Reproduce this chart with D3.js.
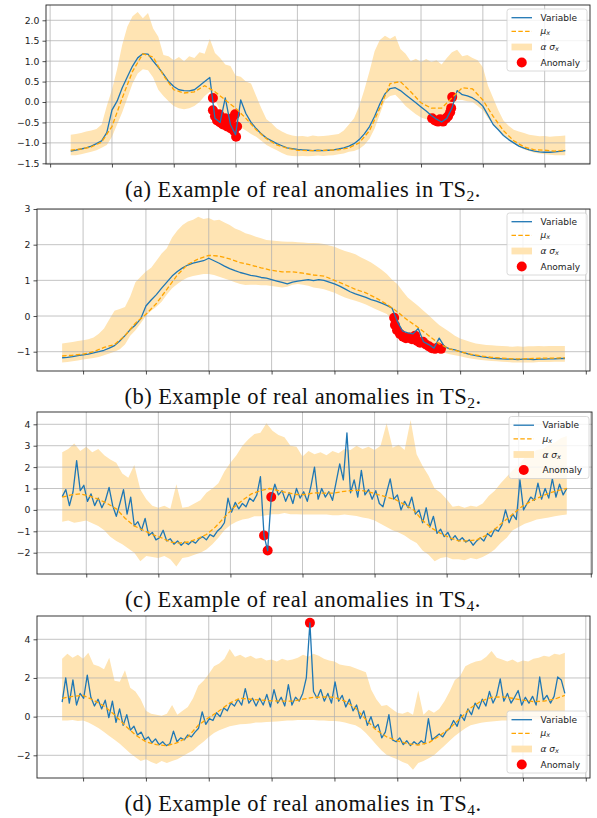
<!DOCTYPE html>
<html><head><meta charset="utf-8">
<script src="https://cdn.jsdelivr.net/npm/d3@7"></script>
<style>body{margin:0;background:#fff}svg{display:block}</style>
</head><body><svg id="chart" width="597" height="818"></svg>
<script>
// ---------------- Panel (a) TS2 ----------------
const varA = [-1.20,-1.18,-1.15,-1.12,-1.08,-1.02,-0.95,-0.75,-0.20,0.02,
0.35,0.62,0.88,1.08,1.18,1.17,1.00,0.85,0.68,0.50,
0.38,0.30,0.28,0.27,0.30,0.40,0.50,0.60,-0.40,-0.50,
0.10,-0.55,-0.80,0.05,-0.28,-0.50,-0.65,-0.78,-0.88,-0.95,
-1.02,-1.07,-1.12,-1.14,-1.16,-1.17,-1.18,-1.19,-1.18,-1.19,
-1.18,-1.17,-1.15,-1.12,-1.08,-1.02,-0.92,-0.78,-0.60,-0.35,
-0.05,0.20,0.33,0.35,0.28,0.18,0.08,-0.02,-0.12,-0.22,
-0.33,-0.42,-0.49,-0.40,-0.15,0.28,0.18,0.15,0.10,0.02,
-0.10,-0.32,-0.55,-0.68,-0.82,-0.92,-1.00,-1.08,-1.13,-1.17,
-1.20,-1.22,-1.23,-1.23,-1.22,-1.21,-1.19];
const muA = [-1.18,-1.15,-1.10,-0.98,-0.60,0.10,0.75,1.18,1.10,0.65,
0.30,0.22,0.25,0.40,0.25,0.05,-0.15,-0.40,-0.68,-0.90,
-1.05,-1.13,-1.18,-1.19,-1.19,-1.18,-1.17,-1.12,-1.00,-0.70,
-0.15,0.45,0.50,0.25,-0.02,-0.15,-0.15,0.10,0.35,0.32,
0.05,-0.35,-0.70,-0.95,-1.10,-1.17,-1.18,-1.20,-1.18];
const upA = [-0.80,-0.78,-0.76,-0.72,-0.70,-0.66,-0.55,-0.10,0.30,0.80,
1.40,1.85,2.10,2.20,2.05,2.18,1.80,1.60,1.15,1.12,
1.02,1.10,1.00,1.12,1.08,1.22,1.18,1.55,1.20,1.08,
0.92,0.88,0.65,0.62,0.50,0.45,0.15,-0.15,-0.42,-0.52,
-0.65,-0.72,-0.78,-0.82,-0.84,-0.83,-0.85,-0.82,-0.84,-0.83,
-0.82,-0.80,-0.78,-0.70,-0.55,-0.40,-0.10,0.30,0.75,1.25,
1.52,1.62,1.55,1.62,1.30,1.18,1.00,1.06,0.98,1.05,
0.98,1.02,0.92,1.08,1.22,1.28,1.12,1.15,1.08,1.02,
0.85,0.40,0.10,-0.20,-0.45,-0.58,-0.68,-0.72,-0.76,-0.80,
-0.82,-0.84,-0.83,-0.85,-0.84,-0.83,-0.82];
const loA = [-1.30,-1.30,-1.28,-1.25,-1.22,-1.18,-1.12,-1.05,-0.85,-0.55,
-0.25,0.10,0.45,0.70,0.80,0.78,0.60,0.30,0.15,0.02,
-0.10,-0.15,-0.18,-0.15,-0.10,0.00,0.15,0.25,0.05,-0.20,
-0.35,-0.50,-0.55,-0.62,-0.70,-0.78,-0.85,-0.95,-1.05,-1.12,
-1.18,-1.25,-1.30,-1.32,-1.33,-1.32,-1.33,-1.32,-1.31,-1.32,
-1.31,-1.30,-1.28,-1.26,-1.22,-1.20,-1.15,-1.05,-0.90,-0.65,
-0.30,0.05,0.15,0.18,0.05,-0.10,-0.20,-0.30,-0.38,-0.42,
-0.45,-0.45,-0.38,-0.28,-0.10,0.05,0.05,0.02,0.00,-0.10,
-0.20,-0.40,-0.55,-0.68,-0.82,-0.92,-1.02,-1.10,-1.16,-1.20,
-1.24,-1.26,-1.28,-1.29,-1.30,-1.30,-1.30];
const anomAx = [55.2,55.2,56.0,56.8,57.6,58.0,59.1,59.9,60.7,61.5,62.2,62.6,63.4,63.8,64.2,64.6,
140.3,141.4,142.6,143.4,144.5,145.7,146.5,147.3,147.7,148.1];
const anomAy = [0.10,-0.20,-0.35,-0.45,-0.30,-0.50,-0.55,-0.40,-0.60,-0.55,-0.65,-0.40,-0.70,-0.30,-0.85,-0.60,
-0.40,-0.45,-0.48,-0.42,-0.48,-0.40,-0.35,-0.25,-0.15,0.12];

// ---------------- Panel (b) TS2 ----------------
const varB = [-1.17,-1.16,-1.14,-1.11,-1.09,-1.07,-1.03,-1.00,-0.96,-0.90,
-0.83,-0.70,-0.55,-0.38,-0.25,-0.08,0.28,0.45,0.60,0.78,
0.95,1.12,1.25,1.35,1.43,1.48,1.52,1.55,1.62,1.55,
1.48,1.40,1.33,1.27,1.22,1.18,1.14,1.12,1.08,1.06,
1.02,0.98,0.94,0.90,0.95,0.98,1.00,1.02,0.99,1.02,
1.00,0.95,0.90,0.84,0.76,0.68,0.62,0.57,0.52,0.46,
0.42,0.36,0.30,0.22,-0.15,-0.42,-0.47,-0.50,-0.35,-0.72,
-0.80,-0.90,-0.62,-0.86,-0.92,-0.95,-1.00,-1.04,-1.08,-1.11,
-1.14,-1.16,-1.18,-1.19,-1.20,-1.21,-1.21,-1.22,-1.21,-1.21,
-1.22,-1.21,-1.21,-1.20,-1.20,-1.19,-1.19];
const muB = [-1.12,-1.10,-1.07,-1.00,-0.88,-0.80,-0.55,-0.20,0.05,0.35,
0.75,1.15,1.45,1.60,1.70,1.68,1.60,1.50,1.43,1.35,
1.28,1.24,1.24,1.20,1.15,1.12,1.00,0.88,0.75,0.65,
0.50,0.33,0.12,-0.12,-0.32,-0.55,-0.78,-0.92,-1.00,-1.07,
-1.12,-1.16,-1.18,-1.20,-1.20,-1.19,-1.18,-1.18,-1.17];
const upB = [-0.77,-0.75,-0.73,-0.70,-0.68,-0.65,-0.60,-0.50,-0.35,-0.10,
0.15,0.20,0.25,0.55,0.95,1.10,1.25,1.35,1.55,1.75,
1.90,2.20,2.40,2.55,2.65,2.70,2.78,2.72,2.75,2.68,
2.70,2.62,2.55,2.45,2.40,2.32,2.28,2.22,2.18,2.13,
2.12,2.10,2.09,2.08,2.08,2.07,2.06,2.05,2.05,2.04,
2.02,1.98,1.94,1.88,1.82,1.78,1.73,1.65,1.58,1.50,
1.40,1.30,1.18,1.02,0.90,0.70,0.52,0.40,0.28,0.15,
0.02,-0.12,-0.25,-0.35,-0.45,-0.55,-0.63,-0.68,-0.73,-0.77,
-0.79,-0.81,-0.82,-0.83,-0.84,-0.85,-0.86,-0.85,-0.86,-0.85,
-0.85,-0.84,-0.85,-0.84,-0.84,-0.84,-0.84];
const loB = [-1.30,-1.29,-1.27,-1.25,-1.22,-1.20,-1.18,-1.15,-1.10,-1.05,
-1.00,-0.93,-0.80,-0.55,-0.40,-0.20,0.00,0.15,0.26,0.40,
0.60,0.78,0.90,1.00,1.08,1.12,1.15,1.18,1.18,1.15,
1.10,1.05,1.00,0.95,0.90,0.87,0.88,0.88,0.86,0.86,
0.84,0.82,0.80,0.82,0.88,0.90,0.88,0.85,0.80,0.78,
0.75,0.70,0.65,0.58,0.52,0.47,0.43,0.38,0.32,0.25,
0.18,0.12,0.06,-0.10,-0.25,-0.40,-0.52,-0.62,-0.72,-0.78,
-0.85,-0.92,-0.98,-1.03,-1.07,-1.10,-1.13,-1.16,-1.19,-1.21,
-1.23,-1.25,-1.26,-1.27,-1.28,-1.29,-1.30,-1.30,-1.30,-1.30,
-1.30,-1.29,-1.29,-1.29,-1.28,-1.28,-1.28];
const anomBx = [126.8,127.1,127.9,129.0,130.2,131.3,132.5,133.6,134.8,135.6,136.7,137.8,138.9,140.1,141.2,142.4,143.5,144.7];
const anomBy = [-0.05,-0.25,-0.40,-0.50,-0.58,-0.62,-0.60,-0.65,-0.55,-0.70,-0.75,-0.72,-0.80,-0.85,-0.90,-0.92,-0.88,-0.92];

// ---------------- Panel (c) TS4 ----------------
const varC = [0.62,0.95,0.20,0.85,2.30,0.90,1.15,0.40,0.75,0.20,
0.55,0.10,0.45,1.05,0.20,-0.30,0.30,0.95,-0.20,0.60,
-0.75,-0.55,-0.95,-0.40,-1.20,-1.05,-1.40,-1.30,-0.95,-1.45,
-1.35,-1.60,-1.45,-1.65,-1.50,-1.62,-1.45,-1.55,-1.35,-1.25,
-1.40,-1.15,-1.25,-1.00,-0.85,-0.60,0.55,-0.10,0.35,0.05,
0.30,0.15,0.55,0.40,0.70,1.55,-1.20,-1.90,0.60,1.20,
0.70,0.90,0.40,0.80,0.30,1.00,0.55,0.85,0.40,1.10,
2.00,0.50,1.00,0.60,0.85,0.45,1.30,2.15,1.40,3.60,
0.80,1.40,0.60,1.85,0.70,0.95,0.50,0.90,0.30,0.15,
0.80,1.45,0.50,0.70,0.00,0.40,0.10,0.60,-0.20,0.00,
-0.60,0.10,-0.80,-0.30,-1.10,-0.90,-1.25,-1.05,-1.40,-1.20,
-1.45,-1.30,-1.50,-1.40,-1.65,-1.45,-1.30,-1.45,-1.10,-1.25,
-0.90,-1.00,-0.70,0.00,-0.60,-0.20,-0.45,1.40,0.00,0.30,
0.60,0.45,1.25,0.50,1.00,0.55,1.45,0.60,1.20,0.70,1.00];
const muC = [0.60,0.70,0.75,0.65,0.50,0.30,0.05,-0.40,-0.75,-0.95,
-1.15,-1.30,-1.50,-1.55,-1.50,-1.35,-1.15,-0.80,-0.35,0.10,
0.45,0.75,0.90,1.00,0.90,0.80,0.72,0.72,0.80,0.78,
0.78,0.85,0.90,0.92,0.85,0.72,0.60,0.48,0.25,0.00,
-0.50,-0.85,-1.10,-1.30,-1.45,-1.45,-1.40,-1.20,-0.90,-0.55,
-0.20,0.15,0.40,0.60,0.78,0.90,1.00];
const upC = [2.70,2.85,3.10,2.75,2.95,2.70,2.85,2.55,2.35,2.20,
1.70,1.50,2.10,0.95,0.50,0.20,0.10,0.20,0.05,1.20,
0.10,0.15,0.30,0.45,0.80,1.00,1.25,1.80,2.20,2.55,
3.00,3.30,3.55,3.60,4.05,3.70,3.50,3.40,3.00,2.95,
2.50,2.75,2.60,2.70,2.55,2.75,2.65,2.85,2.80,3.00,
2.85,2.95,2.80,3.00,4.05,2.90,3.05,2.80,4.20,2.60,
2.05,1.60,1.00,0.80,0.50,0.15,0.20,0.10,0.20,0.15,
0.30,0.65,0.90,1.25,1.55,1.85,2.10,2.45,2.60,2.80,
2.85,3.05,3.15,3.35,3.45];
const loC = [-0.55,-0.50,-0.60,-0.55,-0.50,-0.62,-0.75,-0.95,-1.25,-1.45,
-1.60,-1.80,-2.00,-2.40,-2.15,-2.20,-2.25,-2.15,-2.30,-2.65,
-2.25,-2.20,-2.10,-2.00,-1.85,-1.60,-1.30,-0.95,-0.70,-0.55,
-0.45,-0.40,-0.30,-0.30,-0.25,-0.20,-0.20,-0.15,-0.20,-0.20,
-0.22,-0.22,-0.22,-0.22,-0.22,-0.25,-0.25,-0.22,-0.25,-0.28,
-0.35,-0.40,-0.50,-0.65,-0.80,-0.95,-1.05,-1.20,-1.40,-1.55,
-1.90,-2.10,-2.40,-2.25,-2.20,-2.30,-2.30,-2.35,-2.25,-2.30,
-2.20,-2.05,-1.85,-1.55,-1.30,-0.95,-0.80,-0.65,-0.55,-0.45,
-0.40,-0.35,-0.30,-0.25,-0.22];
const anomCx = [67.2,68.4,69.6];
const anomCy = [-1.20,-1.90,0.60];

// ---------------- Panel (d) TS4 ----------------
const varD = [0.75,2.00,0.70,1.90,0.60,1.20,0.95,2.15,1.00,0.55,
0.90,0.40,0.85,-0.05,0.80,-0.30,0.40,-0.45,0.10,-0.70,
-0.50,-0.95,-0.80,-1.20,-1.05,-1.35,-1.15,-1.45,-1.30,-1.50,
-1.40,-0.75,-1.30,-1.10,-1.20,-0.95,-1.05,-0.80,-0.60,0.25,
-0.40,-0.10,-0.20,0.20,0.00,0.45,0.30,0.70,0.55,0.90,
0.60,1.45,0.70,0.95,0.55,0.95,0.60,1.15,0.50,1.40,
0.70,1.00,0.55,1.65,0.60,1.00,0.80,1.20,2.00,4.85,
1.30,0.95,1.40,0.80,1.20,0.70,1.80,0.80,1.10,0.50,
0.90,0.30,0.60,-0.10,0.30,-0.45,0.00,-0.60,-0.40,-1.10,
-0.80,0.10,-1.20,-1.30,-1.10,-1.45,-1.25,-1.50,-1.30,-1.45,
-1.25,-1.40,-0.10,-1.20,-1.05,-0.90,-1.05,-0.75,-0.60,-0.20,
-0.50,0.10,-0.20,0.40,0.10,0.70,0.40,0.90,0.55,1.30,
0.70,1.10,1.95,0.80,1.20,0.70,1.00,1.35,0.60,1.00,
0.70,1.05,0.60,2.05,0.85,1.10,0.70,1.05,2.05,1.90,1.20];
const muD = [0.95,1.05,1.10,0.85,0.55,0.10,-0.45,-0.95,-1.30,-1.45,
-1.50,-1.35,-1.05,-0.45,-0.05,0.30,0.70,0.95,0.90,0.85,
0.82,0.80,0.80,0.90,1.00,1.02,1.00,0.80,0.45,-0.15,
-0.70,-1.05,-1.25,-1.40,-1.47,-1.35,-1.00,-0.60,-0.10,0.45,
0.80,1.00,1.02,0.95,0.85,0.78,0.80,0.90,1.10];
const upD = [3.00,3.25,3.05,3.20,3.00,3.30,2.70,2.60,2.45,3.05,
1.85,1.80,2.40,1.50,1.30,0.90,0.30,0.15,0.10,0.05,
0.15,0.60,0.10,0.30,0.50,0.95,1.60,1.85,2.20,2.60,
2.75,3.00,3.50,3.10,3.20,3.05,3.15,3.00,3.05,2.90,
2.95,2.85,3.00,2.90,2.95,3.05,3.20,3.10,3.25,3.15,
3.00,2.90,2.85,2.70,2.65,2.60,2.50,2.40,2.30,1.40,
0.90,0.55,0.60,0.40,0.20,0.15,0.25,0.10,1.35,0.10,
0.35,0.20,0.40,0.80,1.30,1.90,2.10,2.60,2.75,2.85,
2.90,3.10,3.40,3.05,2.95,2.85,2.95,2.80,2.90,2.85,
3.00,3.05,3.15,3.10,3.25,3.20,3.30];
const loD = [-0.20,-0.20,-0.18,-0.22,-0.20,-0.30,-0.45,-0.60,-0.80,-1.00,
-1.20,-1.40,-1.65,-1.90,-2.10,-2.30,-2.20,-2.35,-2.45,-2.30,
-2.40,-2.30,-2.20,-2.05,-1.90,-1.75,-1.50,-1.30,-1.05,-0.85,
-0.70,-0.60,-0.50,-0.45,-0.40,-0.38,-0.35,-0.30,-0.30,-0.28,
-0.26,-0.25,-0.22,-0.20,-0.20,-0.18,-0.18,-0.17,-0.18,-0.20,
-0.20,-0.22,-0.22,-0.25,-0.30,-0.38,-0.45,-0.60,-0.85,-1.15,
-1.45,-1.75,-1.98,-2.10,-2.20,-2.35,-2.45,-2.75,-2.40,-2.30,
-2.15,-2.00,-1.75,-1.50,-1.25,-1.00,-0.80,-0.60,-0.45,-0.38,
-0.32,-0.28,-0.25,-0.22,-0.20,-0.20,-0.18,-0.18,-0.18,-0.16,
-0.15,-0.14,-0.12,-0.12,-0.10,-0.10,-0.09];
const anomDx = [94.63];
const anomDy = [4.85];

// ---------------- Axis ticks / labels ----------------
const xTicksA = [-8,16,40,64,88,112,136,160,184];
const xTicksB = [8,32,56,80,104,128,152,176,200];
const xTicksC = [8,32,56,80,104,128,152,176];
const xTicksD = [8,32,56,80,104,128,152,176,200];
const yTicksA = [-1.5,-1.0,-0.5,0.0,0.5,1.0,1.5,2.0];
const yTicksB = [-1,0,1,2,3];
const yTicksC = [-2,-1,0,1,2,3,4];
const yTicksD = [-2,0,2,4];
const captions = ["(a) Example of real anomalies in TS","(b) Example of real anomalies in TS","(c) Example of real anomalies in TS","(d) Example of real anomalies in TS"];
const captionSubs = ["2","2","4","4"];
const legendLabels = ["Variable","μ","α σ","Anomaly"];

// ---------------- Drawing ----------------
const C_BLUE="#1f77b4", C_ORANGE="#ffa500", C_BAND="#ffe4b3", C_RED="#ff0000";
const svg = d3.select("#chart");
svg.append("rect").attr("width",597).attr("height",818).attr("fill","#fff");

const panels = [
 {T:192,l:46,r:590,t:5,b:164,yDom:[-1.517,2.374],v:varA,mu:muA,up:upA,lo:loA,ax:anomAx,ay:anomAy,xt:xTicksA,yt:yTicksA,fmt:d3.format(".1f"),legTop:9,cap:0,capY:197},
 {T:192,l:37,r:590,t:209,b:371,yDom:[-1.541,3.0],v:varB,mu:muB,up:upB,lo:loB,ax:anomBx,ay:anomBy,xt:xTicksB,yt:yTicksB,fmt:d3.format("d"),legTop:213,cap:1,capY:404},
 {T:168,l:37,r:592,t:412,b:574,yDom:[-2.995,4.575],v:varC,mu:muC,up:upC,lo:loC,ax:anomCx,ay:anomCy,xt:xTicksC,yt:yTicksC,fmt:d3.format("d"),legTop:416.5,cap:2,capY:607},
 {T:192,l:37,r:590,t:616,b:778,yDom:[-3.174,5.205],v:varD,mu:muD,up:upD,lo:loD,ax:anomDx,ay:anomDy,xt:xTicksD,yt:yTicksD,fmt:d3.format("d"),legTop:711,cap:3,capY:811}
];

panels.forEach((p,pi)=>{
  const x = d3.scaleLinear().domain([-0.05*p.T,1.05*p.T]).range([p.l,p.r]);
  const y = d3.scaleLinear().domain(p.yDom).range([p.b,p.t]);
  const g = svg.append("g");
  const tx = (arr)=> (i)=> i*p.T/(arr.length-1);
  const cid = "clip"+pi;
  svg.append("clipPath").attr("id",cid).append("rect").attr("x",p.l).attr("y",p.t).attr("width",p.r-p.l).attr("height",p.b-p.t);
  const inner = g.append("g").attr("clip-path",`url(#${cid})`);

  // band
  const band = p.up.map((u,i)=>({x:tx(p.up)(i),u:u,l:p.lo[i]}));
  inner.append("path").datum(band)
    .attr("d",d3.area().x(d=>x(d.x)).y0(d=>y(d.l)).y1(d=>y(d.u)))
    .attr("fill",C_BAND);

  // grid
  inner.selectAll(".gx").data(p.xt).join("line")
    .attr("x1",d=>x(d)).attr("x2",d=>x(d)).attr("y1",p.t).attr("y2",p.b)
    .attr("stroke","#b0b0b0").attr("stroke-opacity",0.75).attr("stroke-width",1);
  inner.selectAll(".gy").data(p.yt).join("line")
    .attr("x1",p.l).attr("x2",p.r).attr("y1",d=>y(d)).attr("y2",d=>y(d))
    .attr("stroke","#b0b0b0").attr("stroke-opacity",0.75).attr("stroke-width",1);

  // anomalies
  inner.selectAll(".an").data(p.ax.map((a,i)=>({x:a,y:p.ay[i]}))).join("circle")
    .attr("cx",d=>x(d.x)).attr("cy",d=>y(d.y)).attr("r",5).attr("fill",C_RED);

  // variable line
  inner.append("path").datum(p.v)
    .attr("d",d3.line().x((d,i)=>x(tx(p.v)(i))).y(d=>y(d)))
    .attr("fill","none").attr("stroke",C_BLUE).attr("stroke-width",1.3).attr("stroke-linejoin","round");
  // mu line
  inner.append("path").datum(p.mu)
    .attr("d",d3.line().x((d,i)=>x(tx(p.mu)(i))).y(d=>y(d)))
    .attr("fill","none").attr("stroke",C_ORANGE).attr("stroke-width",1.3).attr("stroke-dasharray","4.5,2.3");

  // axes
  const xa = g.append("g").attr("transform",`translate(0,${p.b})`)
    .call(d3.axisBottom(x).tickValues(p.xt).tickSize(3.5).tickFormat(""));
  xa.select(".domain").remove();
  xa.selectAll("line").attr("stroke","#222").attr("stroke-width",0.8);
  const ya = g.append("g").attr("transform",`translate(${p.l},0)`)
    .call(d3.axisLeft(y).tickValues(p.yt).tickSize(3.5).tickPadding(3).tickFormat(p.fmt));
  ya.select(".domain").remove();
  ya.selectAll("line").attr("stroke","#222").attr("stroke-width",0.8);
  ya.selectAll("text").attr("font-family","DejaVu Sans").attr("font-size",9.3).attr("fill","#222");

  // spines
  g.append("rect").attr("x",p.l).attr("y",p.t).attr("width",p.r-p.l).attr("height",p.b-p.t)
    .attr("fill","none").attr("stroke","#222").attr("stroke-width",0.9);

  // legend
  const lx = p.r-83, ly = p.legTop;
  const lg = g.append("g");
  lg.append("rect").attr("x",lx).attr("y",ly).attr("width",80).attr("height",62).attr("rx",2.5)
    .attr("fill","#fff").attr("fill-opacity",0.8).attr("stroke","#d0d0d0").attr("stroke-width",0.8);
  const offs = [8.7,22.3,38,53.5];
  const hx0 = lx+4.5, hx1 = lx+25, tX = lx+33.5;
  lg.append("line").attr("x1",hx0).attr("x2",hx1).attr("y1",ly+offs[0]).attr("y2",ly+offs[0]).attr("stroke",C_BLUE).attr("stroke-width",1.3);
  lg.append("line").attr("x1",hx0).attr("x2",hx1).attr("y1",ly+offs[1]).attr("y2",ly+offs[1]).attr("stroke",C_ORANGE).attr("stroke-width",1.3).attr("stroke-dasharray","4.5,2.3");
  lg.append("rect").attr("x",hx0).attr("y",ly+offs[2]-3.4).attr("width",hx1-hx0).attr("height",6.8).attr("fill",C_BAND);
  lg.append("circle").attr("cx",(hx0+hx1)/2).attr("cy",ly+offs[3]).attr("r",5).attr("fill",C_RED);
  const tstyle = s=> s.attr("font-family","DejaVu Sans").attr("font-size",9).attr("fill","#222").attr("dominant-baseline","central");
  lg.append("text").attr("x",tX).attr("y",ly+offs[0]).text(legendLabels[0]).call(tstyle);
  const t1 = lg.append("text").attr("x",tX).attr("y",ly+offs[1]).call(tstyle);
  t1.append("tspan").attr("font-style","italic").text(legendLabels[1]);
  t1.append("tspan").attr("font-style","italic").attr("font-size",6.5).attr("dy",2).text("x");
  const t2 = lg.append("text").attr("x",tX).attr("y",ly+offs[2]).call(tstyle);
  t2.append("tspan").attr("font-style","italic").text(legendLabels[2]);
  t2.append("tspan").attr("font-style","italic").attr("font-size",6.5).attr("dy",2).text("x");
  lg.append("text").attr("x",tX).attr("y",ly+offs[3]).text(legendLabels[3]).call(tstyle);

  // caption
  const ct = svg.append("text").attr("x",303).attr("y",p.capY).attr("text-anchor","middle")
    .attr("font-family","Liberation Serif").attr("font-size",22.5).attr("letter-spacing",0.45).attr("fill","#111");
  ct.append("tspan").text(captions[p.cap]);
  ct.append("tspan").attr("font-size",15.5).attr("dy",4).text(captionSubs[p.cap]);
  ct.append("tspan").attr("dy",-4).text(".");
});
</script></body></html>
